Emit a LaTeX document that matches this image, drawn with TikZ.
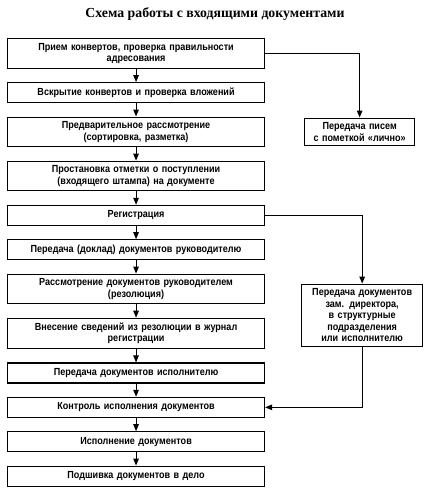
\documentclass[tikz,border=0pt]{standalone}
\usepackage{fontspec}
\setmainfont[FakeStretch=0.88]{Liberation Sans}
\newfontfamily\titlefont{Liberation Serif}
\usetikzlibrary{arrows.meta,positioning,calc}
\tikzset{%
   stagebox/.style={
      draw,
      line width=1.1pt,
      text width=245pt,
      inner xsep=6pt,
      inner ysep=4.5pt,
      minimum height=20pt,
      align=center,
      font=\fontsize{10.3pt}{11.5pt}\selectfont\bfseries
   },
   sidebox/.style={
      stagebox,
      text width=#1
   },
   flow/.style={
      line width=1.1pt,
      -{Triangle[length=7pt,width=5.5pt]}
   },
}

\begin{document}
\begin{tikzpicture}[x=1pt, y=1pt, node distance=13.3pt]
   \useasboundingbox (0,0) rectangle (427,-490);
   \node[font=\titlefont\bfseries\fontsize{13.8pt}{15pt}\selectfont] (title) at (215,-14)
      {Схема работы с входящими документами};
   \node[stagebox, anchor=north west] (receive) at (7,-38)
      {Прием конвертов, проверка правильности\\адресования};
   \node[stagebox, below=of receive] (open) {Вскрытие конвертов и проверка вложений};
   \node[stagebox, below=of open] (presort) {Предварительное рассмотрение\\(сортировка, разметка)};
   \node[stagebox, below=of presort] (stamp)
      {Простановка отметки о поступлении\\(входящего штампа) на документе};
   \node[stagebox, below=of stamp] (register) {Регистрация};
   \node[stagebox, below=of register] (report) {Передача (доклад) документов руководителю};
   \node[stagebox, below=of report] (review) {Рассмотрение документов руководителем\\(резолюция)};
   \node[stagebox, below=of review] (journal)
      {Внесение сведений из резолюции в журнал\\регистрации};
   \node[stagebox, below=of journal] (handover) {Передача документов исполнителю};
   \node[stagebox, below=of handover] (control) {Контроль исполнения документов};
   \node[stagebox, below=of control] (execute) {Исполнение документов};
   \node[stagebox, below=of execute] (file) {Подшивка документов в дело};
   % side branches
   \node[sidebox=98pt, right=39pt of presort] (personal) {Передача писем\\с пометкой «лично»};
   \node[sidebox=109pt, below right=10pt and 36pt of review.north east] (deputy)
      {Передача документов\\зам. директора,\\в структурные\\подразделения\\или исполнителю};
   \foreach \a/\b in {receive/open, open/presort, presort/stamp, stamp/register,
      register/report, report/review, review/journal, journal/handover,
      handover/control, control/execute, execute/file}
      \draw[flow] (\a) -- (\b);
   \draw[flow] (receive.east) -| (personal.north);
   \draw[flow] (register.east) -| (deputy.north);
   \draw[flow] (deputy.south) |- (control.east);
\end{tikzpicture}
\end{document}
